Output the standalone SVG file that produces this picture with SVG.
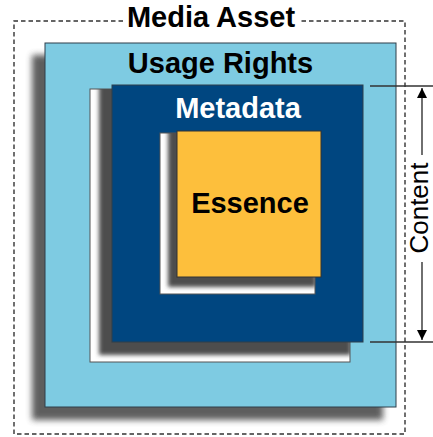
<svg xmlns="http://www.w3.org/2000/svg" width="433" height="437" viewBox="0 0 433 437">
  <defs>
    <style>
      .title { font-family: "Liberation Sans", Arial, sans-serif; font-weight: bold; font-size: 29px; text-anchor: middle; }
      .dark { fill: #000; }
      .light { fill: #fff; }
      .frame { fill: none; stroke: #333; stroke-width: 1.4; stroke-dasharray: 4.5 3; }
      .edge { stroke: #2f3f4a; stroke-width: 1; }
      .hole { fill: #fff; stroke: #555; stroke-width: 1; }
      .shadow { fill: #4d4d4d; }
      .dim { stroke: #333; stroke-width: 1.4; fill: none; }
    </style>
    <filter id="soft" x="-10%" y="-10%" width="120%" height="120%">
      <feGaussianBlur stdDeviation="3"/>
    </filter>
    <filter id="softer" x="-10%" y="-10%" width="120%" height="120%">
      <feGaussianBlur stdDeviation="2.2"/>
    </filter>
    <clipPath id="clip-hole-outer"><rect x="90" y="89" width="260" height="273"/></clipPath>
    <clipPath id="clip-hole-inner"><rect x="160" y="133" width="155" height="161"/></clipPath>
    <marker id="head" viewBox="0 0 10 14" refX="10" refY="7" markerWidth="10" markerHeight="14" markerUnits="userSpaceOnUse" orient="auto">
      <path d="M0,2 L10,7 L0,12 Z" fill="#000"/>
    </marker>
  </defs>

  <rect width="433" height="437" fill="#fff"/>

  <!-- outer dashed boundary with its title -->
  <g id="media-asset">
    <path class="frame" d="M123,21 H14 V434 H405 V21 H300"/>
    <text class="title dark" x="211" y="27">Media Asset</text>
  </g>

  <!-- usage rights layer -->
  <g id="usage-rights">
    <rect class="shadow" x="32" y="55" width="351" height="365" filter="url(#soft)" opacity="0.9"/>
    <rect x="45" y="43" width="351" height="364" fill="#7ECBE2" class="edge"/>
    <text class="title dark" x="220.5" y="73">Usage Rights</text>
    <rect class="hole" x="90" y="89" width="260" height="273"/>
    <g clip-path="url(#clip-hole-outer)">
      <rect class="shadow" x="99" y="80" width="252" height="275" filter="url(#softer)"/>
    </g>
  </g>

  <!-- metadata layer -->
  <g id="metadata">
    <rect x="112" y="85" width="251" height="257" fill="#004680" class="edge"/>
    <text class="title light" x="238" y="118">Metadata</text>
    <rect class="hole" x="160" y="133" width="155" height="161"/>
    <g clip-path="url(#clip-hole-inner)">
      <rect class="shadow" x="168" y="124" width="148" height="163" filter="url(#softer)"/>
    </g>
  </g>

  <!-- essence core -->
  <g id="essence">
    <rect x="177" y="131" width="144" height="146" fill="#FDBF3C" stroke="#333" stroke-width="1"/>
    <text class="title dark" x="250" y="213">Essence</text>
  </g>

  <!-- content extent dimension -->
  <g id="connectors">
    <line class="dim" x1="370" y1="86" x2="433" y2="86"/>
    <line class="dim" x1="370" y1="342" x2="433" y2="342"/>
    <line class="dim" x1="422" y1="155" x2="422" y2="88" marker-end="url(#head)"/>
    <line class="dim" x1="422" y1="262" x2="422" y2="340" marker-end="url(#head)"/>
    <text x="427.5" y="208" transform="rotate(-90 427.5 208)" font-family="Liberation Sans, Arial, sans-serif" font-size="26" text-anchor="middle" fill="#000">Content</text>
  </g>
</svg>
